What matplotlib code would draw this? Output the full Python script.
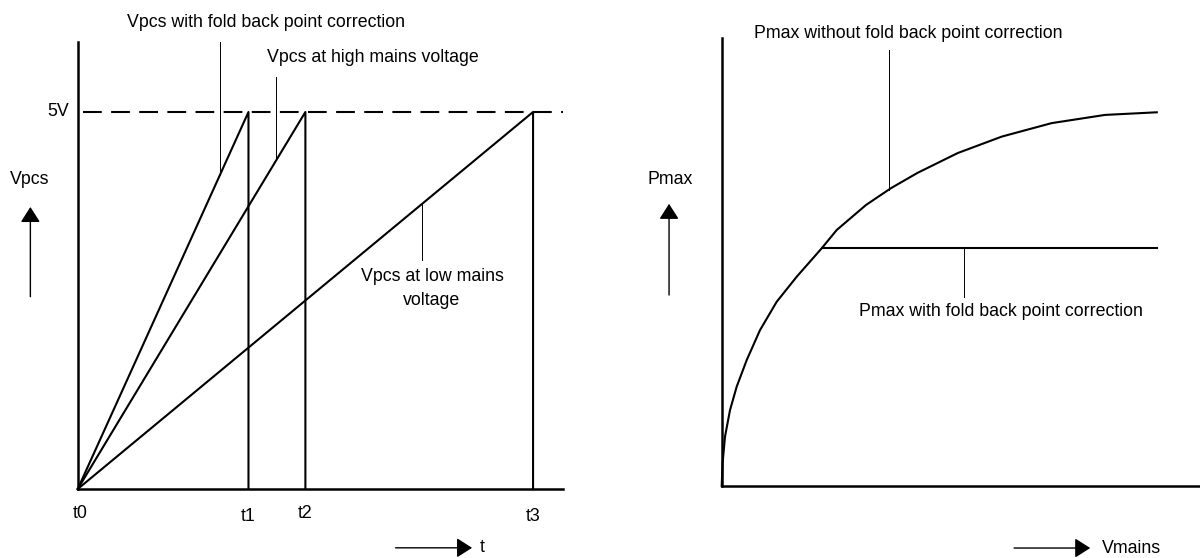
import numpy as np
import matplotlib
matplotlib.use("Agg")
import matplotlib.pyplot as plt
from matplotlib import font_manager

# left panel: sawtooth ramps of Vpcs (time in arbitrary units, volts)
v_limit = 5.0
t_fold = 3.75      # t1, with fold back point correction
t_high = 5.0       # t2, high mains voltage
t_low = 10.0       # t3, low mains voltage
t_ticks = [0.0, t_fold, t_high, t_low]
t_labels = ["t0", "t1", "t2", "t3"]

# right panel: Pmax vs Vmains (arbitrary units)
vmains = [0.0, 0.02, 0.076, 0.191, 0.345, 0.575, 0.880, 1.264, 1.724, 2.298,
          2.643, 3.317, 3.891, 4.502, 5.426, 6.438, 7.582, 8.81, 10.0]
pmax = [0.0, 0.061, 0.132, 0.203, 0.266, 0.337, 0.417, 0.493, 0.560, 0.636,
        0.685, 0.752, 0.797, 0.838, 0.891, 0.935, 0.971, 0.993, 1.0]
fold_start = 2.298
fold_level = 0.636

try:
    font_manager.findfont("Liberation Sans Narrow", fallback_to_default=False)
    fam, fs = "Liberation Sans Narrow", 15
except ValueError:
    fam, fs = "Liberation Sans", 12.8
plt.rcParams["font.family"] = [fam, "DejaVu Sans"]
plt.rcParams["font.size"] = fs

LW = 1.5
LEAD = 0.7
fig = plt.figure(figsize=(12, 5.58), dpi=100)

def arrow(ax, tail, tip):
    ax.annotate("", xy=tip, xytext=tail,
                arrowprops=dict(arrowstyle="-|>,head_length=0.47,head_width=0.3",
                                mutation_scale=20, lw=1.0, color="black",
                                shrinkA=0, shrinkB=0))

# ---------------- left panel ----------------
ax = fig.add_axes([0, 0, 0.5, 1])
ax.set_xlim(-1.707, 11.47)
ax.set_ylim(-0.915, 6.485)
ax.axis("off")

ax.plot([0, 0], [0, 5.93], color="black", lw=1.8)
ax.plot([0, 10.65], [0, 0], color="black", lw=1.8)
ax.plot([0.12, 10.65], [v_limit, v_limit], color="black", lw=LW,
        linestyle=(0, (9, 4.5)))
for t in [t_fold, t_high, t_low]:
    ax.plot([0, t, t], [0, v_limit, 0], color="black", lw=LW)

ax.text(-0.19, v_limit, "5V", ha="right", va="center")
for t, lab, dy in zip(t_ticks, t_labels, [-0.33, -0.37, -0.32, -0.37]):
    ax.text(t + (0.05 if lab == "t0" else 0), dy, lab, ha="center", va="center")

# leaders and labels
x1 = 3.125
ax.plot([x1, x1], [5.93, v_limit / t_fold * x1], color="black", lw=LEAD)
ax.text(4.14, 6.18, "Vpcs with fold back point correction", ha="center", va="center")
x2 = 4.36
ax.plot([x2, x2], [5.46, v_limit / t_high * x2], color="black", lw=LEAD)
ax.text(6.49, 5.72, "Vpcs at high mains voltage", ha="center", va="center")
x3 = 7.56
ax.plot([x3, x3], [v_limit / t_low * x3, 3.04], color="black", lw=LEAD)
ax.text(7.78, 2.66, "Vpcs at low mains\nvoltage", ha="center", va="center",
        linespacing=1.5)

ax.text(-1.05, 4.10, "Vpcs", ha="center", va="center")
arrow(ax, (-1.04, 2.55), (-1.04, 3.74))
arrow(ax, (6.98, -0.78), (8.66, -0.78))
ax.text(8.83, -0.78, "t", ha="left", va="center")

# ---------------- right panel ----------------
ax2 = fig.add_axes([0.5, 0, 0.5, 1])
ax2.set_xlim(-2.797, 10.993)
ax2.set_ylim(-0.1927, 1.3005)
ax2.axis("off")

ax2.plot([0, 0], [0, 1.199], color="black", lw=1.8)
ax2.plot([0, 10.99], [0, 0], color="black", lw=1.8)
ax2.plot(vmains, pmax, color="black", lw=LW)
ax2.plot([fold_start, vmains[-1]], [fold_level, fold_level], color="black", lw=LW)

xa = 3.845
ax2.plot([xa, xa], [1.167, np.interp(xa, vmains, pmax)], color="black", lw=LEAD)
ax2.text(4.28, 1.212, "Pmax without fold back point correction", ha="center", va="center")
xb = 5.57
ax2.plot([xb, xb], [fold_level, 0.506], color="black", lw=LEAD)
ax2.text(6.42, 0.466, "Pmax with fold back point correction", ha="center", va="center")

ax2.text(-1.19, 0.819, "Pmax", ha="center", va="center")
arrow(ax2, (-1.21, 0.511), (-1.21, 0.755))
arrow(ax2, (6.72, -0.166), (8.47, -0.166))
ax2.text(8.74, -0.166, "Vmains", ha="left", va="center")

fig.savefig("out.png", dpi=100, facecolor="white")
